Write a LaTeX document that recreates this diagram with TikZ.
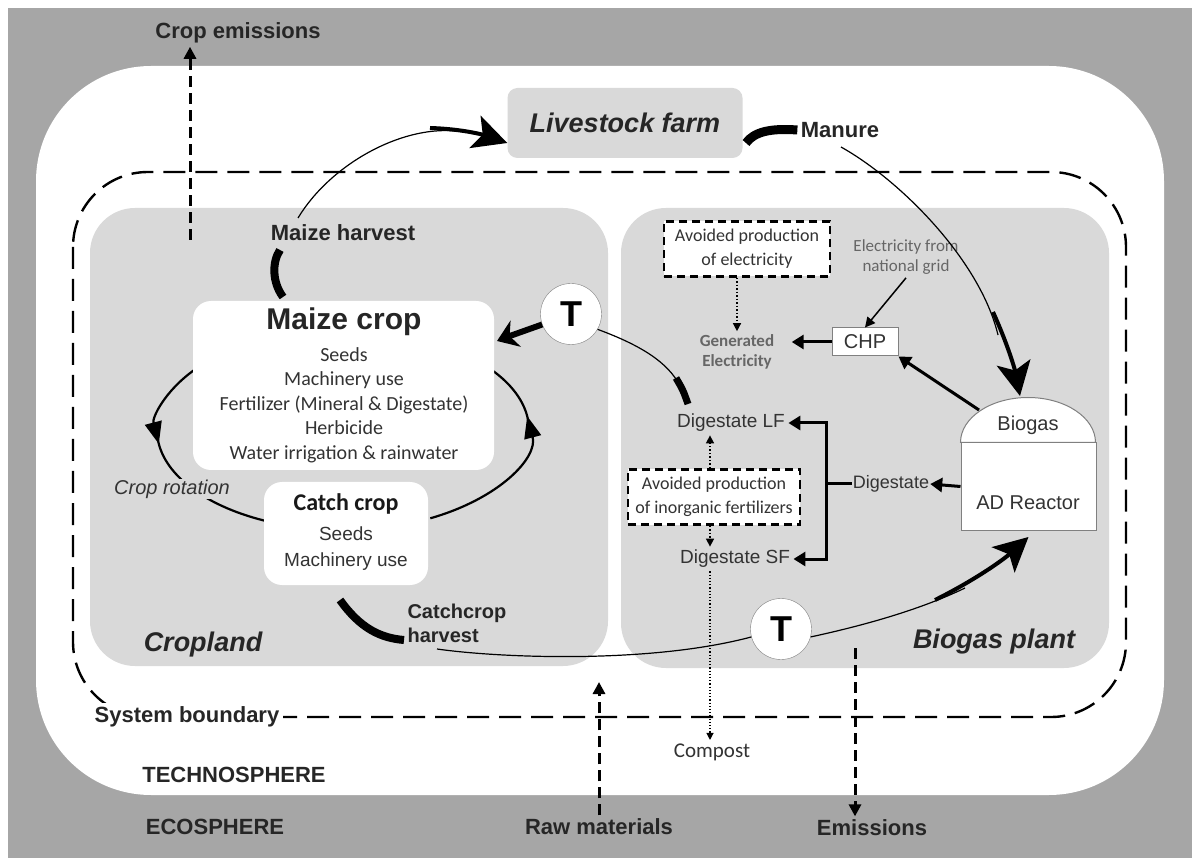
\documentclass[tikz,border=0pt]{standalone}
\usepackage{fontspec}
\setmainfont{Liberation Sans}
\newfontfamily\calfont{Carlito}
\usepackage{tikz}
\usetikzlibrary{shapes,arrows,arrows.meta,positioning,backgrounds,fit}
\definecolor{EcoGray}{HTML}{A6A6A6}
\definecolor{PlantGray}{HTML}{D9D9D9}
\definecolor{LineGray}{HTML}{808080}
\definecolor{TextGray}{HTML}{333333}
\newcommand{\fsz}[2]{\fontsize{#1}{#2}\selectfont}

\begin{document}
\begin{tikzpicture}[x=1pt,y=1pt]
		\tikzstyle{Region}  = [fill=PlantGray, rounded corners=45pt]
		\tikzstyle{WhiteBox}= [fill=white, rounded corners=18pt]
		\tikzstyle{DashBox} = [draw=black, fill=white, line width=2.4pt, dash pattern=on 8pt off 5pt, inner sep=2pt, align=center, text=TextGray, font=\calfont\fsz{18}{24}]
		\tikzstyle{Label}   = [text=black!85, font=\bfseries\fsz{22}{26}]
		\tikzstyle{Area}    = [text=black!85, font=\bfseries\itshape\fsz{27}{30}]
		\tikzstyle{Plain}   = [text=TextGray, font=\fsz{19}{26}, align=center]
		\tikzstyle{TNode}   = [circle, draw=LineGray, fill=white, minimum size=61pt, inner sep=0pt, font=\bfseries\fsz{36}{36}]
		\tikzstyle{Unit}    = [draw=LineGray, fill=white, line width=1pt]
		\tikzstyle{Thin}    = [line width=1.2pt]
		\tikzstyle{Tail}    = [line width=8pt]
		\tikzstyle{Head}    = [line width=4pt, -{Stealth[length=34pt,width=34pt,inset=8pt]}]
		\tikzstyle{Rot}     = [line width=2.2pt]
		\tikzstyle{EcoFlow} = [line width=3pt, dash pattern=on 11pt off 6pt, -{Triangle[length=12pt,width=12pt]}]
		\tikzstyle{DotFlow} = [line width=1.5pt, dotted, -{Triangle[length=8pt,width=8pt]}]
		\tikzstyle{Feed}    = [line width=3pt, -{Triangle[length=12pt,width=14pt]}]

		\useasboundingbox (0,0) rectangle (1192,-858);
		% ecosphere / technosphere / system boundary
		\fill[white] (0,0) rectangle (1192,-858);
		\fill[EcoGray] (8,-8) rectangle (1192,-858);
		\fill[white, rounded corners=115pt] (36,-66) rectangle (1164,-795);
		\draw[line width=2.4pt, dash pattern=on 22pt off 10pt, rounded corners=75pt] (73,-172) rectangle (1126,-717);

		\fill[Region] (90,-208) rectangle (608,-666);
		\fill[Region] (621,-208) rectangle (1109,-668);

		\node (farm) [fill=PlantGray, rounded corners=10pt, minimum width=235pt, minimum height=70pt, Area] at (625,-123) {Livestock farm};

		% crop rotation
		\coordinate (rot) at (343,-430);
		\draw[Rot, -{Triangle[length=22pt,width=17pt]}] (rot) ++(143:186 and 100) arc[start angle=143, end angle=188, x radius=186, y radius=100];
		\draw[Rot] (rot) ++(184:186 and 100) arc[start angle=184, end angle=245, x radius=186, y radius=100];
		\draw[Rot, -{Triangle[length=22pt,width=17pt]}] (rot) ++(-62:186 and 100) arc[start angle=-62, end angle=8, x radius=186, y radius=100];
		\draw[Rot] (rot) ++(4:186 and 100) arc[start angle=4, end angle=40, x radius=186, y radius=100];

		\fill[WhiteBox] (193,-301) rectangle (494,-470);
		\fill[WhiteBox] (264,-482) rectangle (428,-585);
		\node (mc) at (344,-322) [text=black!85, font=\bfseries\fsz{30}{32}] {Maize crop};
		\node (mcin) at (344,-405) [text=TextGray, align=center, font=\calfont\fsz{20}{24.4}] {Seeds\\Machinery use\\Fertilizer (Mineral \& Digestate)\\Herbicide\\Water irrigation \& rainwater};
		\node (cc) at (346,-504) [text=black!90, font=\calfont\bfseries\fsz{24}{26}] {Catch crop};
		\node (ccin) at (346,-549) [Plain] {Seeds\\Machinery use};
		\node (rotlbl) at (172,-489) [fill=PlantGray, inner sep=1pt, text=TextGray, font=\itshape\fsz{20}{22}] {Crop rotation};

		% biogas plant
		\node (reactor) [Unit, minimum width=135pt, minimum height=87pt] at (1028.5,-486.5) {};
		\draw[Unit] (reactor.north west) arc[start angle=180, end angle=0, x radius=67.5, y radius=45] -- cycle;
		\node (biogas) at (1028,-425) [text=TextGray, font=\fsz{20}{22}] {Biogas};
		\node (ad) at (1028,-503) [text=TextGray, font=\fsz{20}{22}] {AD Reactor};
		\coordinate (dome) at (979,-410);
		\node (chp) [Unit, minimum width=66pt, minimum height=28pt, inner sep=0pt, text=TextGray, font=\fsz{20}{22}] at (865,-342) {CHP};
		\node (gen) at (737,-352) [text=black!60, align=center, font=\calfont\bfseries\fsz{17}{20}] {Generated\\Electricity};
		\node (grid) at (906,-257) [text=black!60, align=center, font=\calfont\fsz{17}{20}] {Electricity from\\national grid};
		\node (ave) [DashBox, minimum width=166pt, minimum height=55pt] at (747,-249) {Avoided production\\of electricity};
		\node (dlf) [Plain] at (731,-423) {Digestate LF};
		\node (dsf) [Plain] at (735,-559) {Digestate SF};
		\node (avf) [DashBox, minimum width=172pt, minimum height=55pt] at (714,-497) {Avoided production\\of inorganic fertilizers};
		\node (dig) [text=TextGray, font=\fsz{18}{20}, inner sep=1pt] at (891,-484) {Digestate};
		\node (compost) at (712,-752) [text=TextGray, font=\calfont\fsz{21}{22}] {Compost};
		\coordinate (avfx) at (710,0);
		\coordinate (br) at (826,-484);

		\draw[DotFlow] (ave.south -| gen.north) -- (gen.north);
		\draw[line width=1.5pt, -{Triangle[length=10pt,width=10pt]}] (grid.south) -- (chp.north);
		\draw[Feed] (chp.west) -- ([xshift=14pt]gen.east |- chp.west);
		\draw[Feed] (dome) -- (chp.south east);
		\draw[Feed] (reactor.west) -- (dig.east);
		\draw[line width=3pt] (dig.west) -- (br);
		\draw[Feed] (br) |- (dlf.east);
		\draw[Feed] (br) |- (dsf.east);
		\draw[DotFlow] (avf.north -| avfx) -- (dlf.south -| avfx);
		\draw[DotFlow] (avf.south -| avfx) -- (dsf.north -| avfx);
		\draw[line width=1.2pt, dotted, -{Triangle[length=7pt,width=7pt]}] (dsf.south -| avfx) -- (compost.north -| avfx);

		% flows between units
		\node (t1) [TNode] at (571,-314) {T};
		\node (t2) [TNode] at (781,-629) {T};
		\coordinate (mcb) at (497,-341);
		\draw[line width=6pt, -{Stealth[length=20pt,width=28pt]}] (t1.200) .. controls (525,-330) .. (mcb);
		\draw[Thin] (t1.-30) .. controls (640,-345) and (668,-362) .. (680,-386);
		\draw[line width=7pt] (676,-378) .. controls (683,-390) .. (688,-404);

		% maize harvest
		\node (mh) [Label] at (343,-233) {Maize harvest};
		\draw[Tail] (283,-297) .. controls (272,-282) and (272,-262) .. (280,-250);
		\draw[Thin] (298,-218) .. controls (330,-165) and (400,-126) .. (455,-131);
		\draw[Head] (430,-128) .. controls (465,-129) and (487,-136) .. (farm.west |- 0,-143);

		% manure
		\node (manure) [Label] at (840,-130) {Manure};
		\draw[line width=9pt] (manure.west) .. controls (770,-128) and (754,-132) .. (746,-143);
		\draw[Thin] (841,-147) .. controls (900,-180) and (980,-260) .. (998,-335);
		\draw[Head] (993,-312) .. controls (1008,-345) and (1015,-370) .. (1020,-396);

		% catch crop harvest
		\node (cch) [Label, anchor=west, align=left, font=\bfseries\fsz{20}{24}] at (404,-623) {Catchcrop\\harvest};
		\draw[Tail] (340,-600) .. controls (360,-628) and (380,-638) .. (cch.west |- 0,-640);
		\draw[Thin] (437,-649) .. controls (500,-658) and (650,-664) .. (t2.195);
		\draw[Thin] (t2.-15) .. controls (880,-622) and (930,-605) .. (965,-588);
		\draw[Head] (935,-600) .. controls (975,-580) and (1003,-560) .. (reactor.south |- 0,-537);

		% labels of areas
		\node (cropland) [Area] at (203,-645) {Cropland};
		\node (bplant) [Area] at (994,-642) {Biogas plant};
		\node (sysb) [Label, fill=white, inner sep=4pt] at (187,-717) {System boundary};
		\node (techno) [Label] at (234,-775) {TECHNOSPHERE};
		\node (eco) [Label] at (215,-827) {ECOSPHERE};

		% exchanges with the ecosphere
		\node (cemis) [Label] at (238,-33) {Crop emissions};
		\coordinate (ce0) at (190,-240);
		\draw[EcoFlow] (ce0) -- (ce0 |- cemis.south);
		\node (raw) [Label] at (599,-827) {Raw materials};
		\coordinate (rawtip) at (599,-682);
		\draw[EcoFlow] (raw.north) -- (rawtip);
		\node (emis) [Label] at (872,-828) {Emissions};
		\coordinate (em0) at (855,-648);
		\draw[EcoFlow] (em0) -- (em0 |- emis.north);
	\end{tikzpicture}
\end{document}
